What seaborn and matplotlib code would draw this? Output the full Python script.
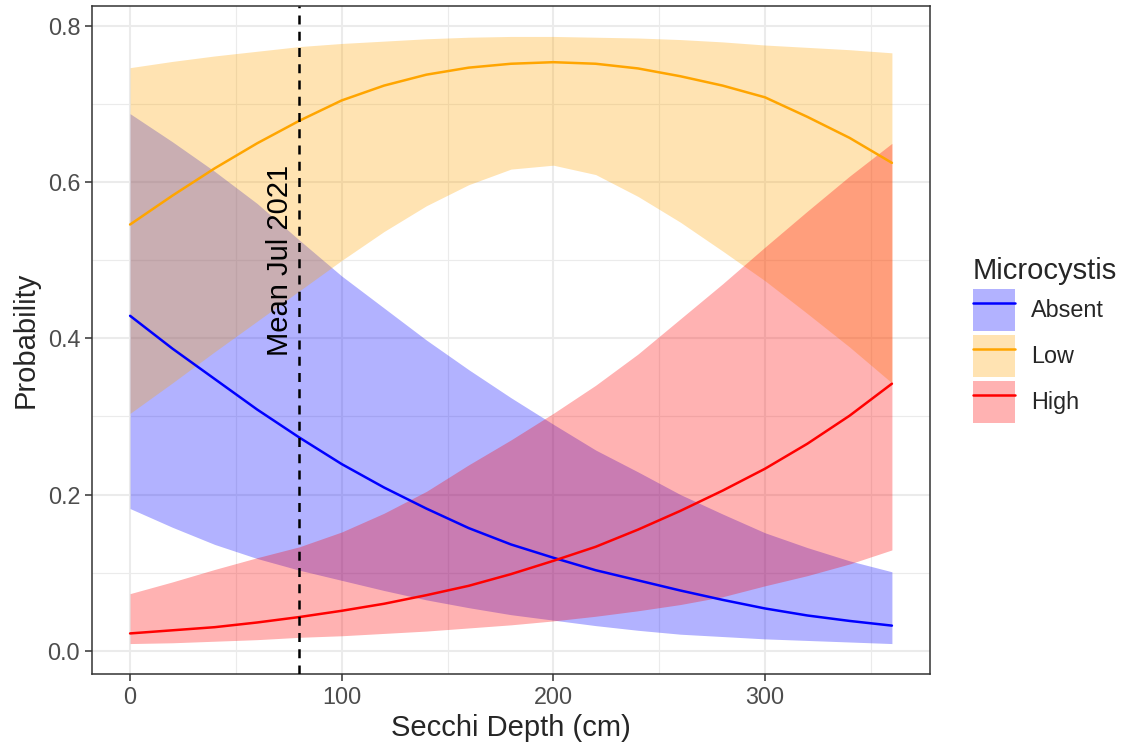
import matplotlib
matplotlib.use('Agg')
import matplotlib.pyplot as plt
import matplotlib.ticker as mticker
from matplotlib.patches import Patch
from matplotlib.lines import Line2D
import pandas as pd
import seaborn as sns

# Secchi depth grid (cm) the predictions were read at
secchi = [0, 20, 40, 60, 80, 100, 120, 140, 160, 180, 200, 220, 240, 260, 280, 300, 320, 340, 360]

# predicted probability + ribbon, per Microcystis level
absent_fit = [0.429, 0.387, 0.348, 0.309, 0.273, 0.239, 0.209, 0.182, 0.157, 0.136,
              0.119, 0.103, 0.090, 0.077, 0.065, 0.054, 0.045, 0.038, 0.032]
absent_lo = [0.182, 0.158, 0.136, 0.118, 0.103, 0.090, 0.077, 0.065, 0.055, 0.046,
             0.039, 0.032, 0.026, 0.021, 0.018, 0.015, 0.013, 0.011, 0.009]
absent_hi = [0.688, 0.652, 0.614, 0.573, 0.526, 0.480, 0.439, 0.398, 0.360, 0.324,
             0.290, 0.257, 0.229, 0.200, 0.175, 0.151, 0.132, 0.115, 0.101]

low_fit = [0.546, 0.583, 0.618, 0.650, 0.679, 0.705, 0.724, 0.738, 0.747, 0.752,
           0.754, 0.752, 0.746, 0.736, 0.724, 0.709, 0.684, 0.657, 0.625]
low_lo = [0.304, 0.343, 0.383, 0.422, 0.461, 0.500, 0.537, 0.570, 0.597, 0.617,
          0.622, 0.610, 0.582, 0.549, 0.512, 0.474, 0.432, 0.389, 0.343]
low_hi = [0.747, 0.755, 0.762, 0.768, 0.774, 0.778, 0.781, 0.784, 0.786, 0.787,
          0.787, 0.786, 0.785, 0.783, 0.780, 0.776, 0.773, 0.770, 0.766]

high_fit = [0.022, 0.026, 0.030, 0.036, 0.043, 0.051, 0.060, 0.071, 0.083, 0.098,
            0.115, 0.133, 0.155, 0.179, 0.205, 0.233, 0.265, 0.301, 0.342]
high_lo = [0.009, 0.010, 0.012, 0.014, 0.017, 0.019, 0.022, 0.025, 0.029, 0.033,
           0.038, 0.044, 0.051, 0.059, 0.069, 0.083, 0.096, 0.111, 0.129]
high_hi = [0.073, 0.088, 0.104, 0.119, 0.133, 0.152, 0.176, 0.204, 0.238, 0.270,
           0.304, 0.340, 0.380, 0.425, 0.470, 0.517, 0.563, 0.608, 0.650]

levels = ['Absent', 'Low', 'High']
colours = {'Absent': 'blue', 'Low': 'orange', 'High': 'red'}
mean_jul_2021 = 80

# long format table for seaborn
frames = []
for level, fit, lo, hi in zip(levels,
                              [absent_fit, low_fit, high_fit],
                              [absent_lo, low_lo, high_lo],
                              [absent_hi, low_hi, high_hi]):
    frames.append(pd.DataFrame({'secchi': secchi, 'level': level,
                                'fit': fit, 'lo': lo, 'hi': hi}))
df = pd.concat(frames, ignore_index=True)

sns.set_style('white')
plt.rcParams['font.family'] = ['Liberation Sans', 'DejaVu Sans']

fig = plt.figure(figsize=(11.23, 7.48), dpi=100)
ax = fig.add_axes([92 / 1123, 1 - 674 / 748, (930 - 92) / 1123, (674 - 6) / 748])

# ribbons
for level in levels:
    d = df[df['level'] == level]
    ax.fill_between(d['secchi'], d['lo'], d['hi'], color=colours[level],
                    alpha=0.3, linewidth=0, zorder=1)

# fitted lines
sns.lineplot(data=df, x='secchi', y='fit', hue='level', hue_order=levels,
             palette=colours, estimator=None, linewidth=1.8, legend=False,
             ax=ax, zorder=3)

# mean secchi depth in July 2021
ax.axvline(mean_jul_2021, color='black', linestyle=(0, (3.6, 2.9)), linewidth=1.8, zorder=4)
ax.text(71, 0.5, 'Mean Jul 2021', rotation=90, ha='center', va='center',
        fontsize=21, color='black', zorder=5)

# axes, grid (theme_bw look)
ax.set_xlim(-18, 378)
ax.set_ylim(-0.030, 0.826)
ax.set_xticks([0, 100, 200, 300])
ax.set_xticks([50, 150, 250, 350], minor=True)
ax.set_yticks([0.0, 0.2, 0.4, 0.6, 0.8])
ax.set_yticks([0.1, 0.3, 0.5, 0.7], minor=True)
ax.yaxis.set_major_formatter(mticker.FormatStrFormatter('%.1f'))
ax.set_axisbelow(True)
ax.grid(which='major', color='#EBEBEB', linewidth=1.5)
ax.grid(which='minor', color='#EBEBEB', linewidth=0.8)
ax.tick_params(which='major', labelsize=16.8, labelcolor='#4D4D4D', color='#333333',
               length=5, width=1.1, pad=3.5, left=True, bottom=True)
ax.tick_params(which='minor', length=0)
for s in ax.spines.values():
    s.set_color('#333333')
    s.set_linewidth(1.1)

ax.set_xlabel('Secchi Depth (cm)', fontsize=21, labelpad=4)
ax.set_ylabel('Probability', fontsize=21, labelpad=6)

# legend: ribbon patch with the line on top
handles = [(Patch(facecolor=colours[l], alpha=0.3, edgecolor='none'),
            Line2D([], [], color=colours[l], linewidth=1.8)) for l in levels]
fig.legend(handles, levels, title='Microcystis', loc='center left',
           bbox_to_anchor=(973 / 1123, 1 - 340 / 748), frameon=False,
           fontsize=16.8, title_fontsize=21, handlelength=1.8, handleheight=2.39,
           handletextpad=0.7, labelspacing=0.17, borderpad=0, borderaxespad=0,
           alignment='left')

fig.savefig('out.png', dpi=100)
